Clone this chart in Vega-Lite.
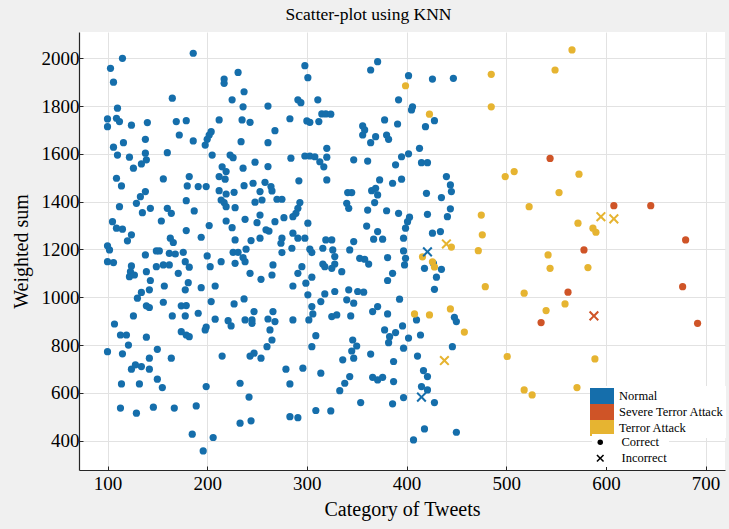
{
 "$schema": "https://vega.github.io/schema/vega-lite/v6.json",
 "width": 646, "height": 438,
 "autosize": {"type": "none"},
 "padding": {"left": 79, "top": 32, "right": 4, "bottom": 59},
 "background": "#f0f0f0",
 "title": {"text": "Scatter-plot using KNN", "anchor": "middle", "frame": "bounds", "offset": 9, "font": "Liberation Serif", "fontSize": 17.5, "fontWeight": "normal", "color": "black"},
 "config": {
  "view": {"fill": "white", "stroke": null},
  "axis": {"labelFont": "Liberation Serif", "labelFontSize": 19, "labelColor": "black", "titleFont": "Liberation Serif", "titleFontSize": 20, "titleFontWeight": "normal", "titleColor": "black", "domainColor": "#262626", "domainWidth": 1.2, "tickColor": "#262626", "gridColor": "#e2e2e2", "tickSize": -4}
 },
 "data": {"values": [
{"tweets":115,"wsum":2000,"cls":"Normal","res":"Correct"},{"tweets":103,"wsum":1958,"cls":"Normal","res":"Correct"},{"tweets":106,"wsum":1900,"cls":"Normal","res":"Correct"},{"tweets":186,"wsum":2021,"cls":"Normal","res":"Correct"},{"tweets":110,"wsum":1791,"cls":"Normal","res":"Correct"},{"tweets":165,"wsum":1833,"cls":"Normal","res":"Correct"},{"tweets":100,"wsum":1746,"cls":"Normal","res":"Correct"},{"tweets":100,"wsum":1714,"cls":"Normal","res":"Correct"},{"tweets":109,"wsum":1749,"cls":"Normal","res":"Correct"},{"tweets":112,"wsum":1735,"cls":"Normal","res":"Correct"},
{"tweets":124,"wsum":1720,"cls":"Normal","res":"Correct"},{"tweets":140,"wsum":1731,"cls":"Normal","res":"Correct"},{"tweets":169,"wsum":1735,"cls":"Normal","res":"Correct"},{"tweets":179,"wsum":1739,"cls":"Normal","res":"Correct"},{"tweets":172,"wsum":1679,"cls":"Normal","res":"Correct"},{"tweets":186,"wsum":1654,"cls":"Normal","res":"Correct"},{"tweets":138,"wsum":1661,"cls":"Normal","res":"Correct"},{"tweets":116,"wsum":1647,"cls":"Normal","res":"Correct"},{"tweets":106,"wsum":1628,"cls":"Normal","res":"Correct"},{"tweets":110,"wsum":1595,"cls":"Normal","res":"Correct"},
{"tweets":122,"wsum":1586,"cls":"Normal","res":"Correct"},{"tweets":126,"wsum":1540,"cls":"Normal","res":"Correct"},{"tweets":134,"wsum":1558,"cls":"Normal","res":"Correct"},{"tweets":138,"wsum":1603,"cls":"Normal","res":"Correct"},{"tweets":139,"wsum":1575,"cls":"Normal","res":"Correct"},{"tweets":160,"wsum":1605,"cls":"Normal","res":"Correct"},{"tweets":109,"wsum":1498,"cls":"Normal","res":"Correct"},{"tweets":114,"wsum":1466,"cls":"Normal","res":"Correct"},{"tweets":156,"wsum":1495,"cls":"Normal","res":"Correct"},{"tweets":182,"wsum":1505,"cls":"Normal","res":"Correct"},
{"tweets":180,"wsum":1466,"cls":"Normal","res":"Correct"},{"tweets":191,"wsum":1463,"cls":"Normal","res":"Correct"},{"tweets":199,"wsum":1463,"cls":"Normal","res":"Correct"},{"tweets":138,"wsum":1442,"cls":"Normal","res":"Correct"},{"tweets":133,"wsum":1421,"cls":"Normal","res":"Correct"},{"tweets":129,"wsum":1393,"cls":"Normal","res":"Correct"},{"tweets":112,"wsum":1379,"cls":"Normal","res":"Correct"},{"tweets":143,"wsum":1372,"cls":"Normal","res":"Correct"},{"tweets":135,"wsum":1354,"cls":"Normal","res":"Correct"},{"tweets":179,"wsum":1404,"cls":"Normal","res":"Correct"},
{"tweets":187,"wsum":1361,"cls":"Normal","res":"Correct"},{"tweets":160,"wsum":1372,"cls":"Normal","res":"Correct"},{"tweets":164,"wsum":1351,"cls":"Normal","res":"Correct"},{"tweets":154,"wsum":1319,"cls":"Normal","res":"Correct"},{"tweets":105,"wsum":1316,"cls":"Normal","res":"Correct"},{"tweets":109,"wsum":1289,"cls":"Normal","res":"Correct"},{"tweets":115,"wsum":1285,"cls":"Normal","res":"Correct"},{"tweets":124,"wsum":1261,"cls":"Normal","res":"Correct"},{"tweets":120,"wsum":1236,"cls":"Normal","res":"Correct"},{"tweets":179,"wsum":1279,"cls":"Normal","res":"Correct"},
{"tweets":194,"wsum":1251,"cls":"Normal","res":"Correct"},{"tweets":163,"wsum":1247,"cls":"Normal","res":"Correct"},{"tweets":166,"wsum":1229,"cls":"Normal","res":"Correct"},{"tweets":202,"wsum":1300,"cls":"Normal","res":"Correct"},{"tweets":100,"wsum":1215,"cls":"Normal","res":"Correct"},{"tweets":102,"wsum":1198,"cls":"Normal","res":"Correct"},{"tweets":138,"wsum":1177,"cls":"Normal","res":"Correct"},{"tweets":149,"wsum":1194,"cls":"Normal","res":"Correct"},{"tweets":152,"wsum":1194,"cls":"Normal","res":"Correct"},{"tweets":162,"wsum":1184,"cls":"Normal","res":"Correct"},
{"tweets":168,"wsum":1181,"cls":"Normal","res":"Correct"},{"tweets":176,"wsum":1188,"cls":"Normal","res":"Correct"},{"tweets":200,"wsum":1173,"cls":"Normal","res":"Correct"},{"tweets":214,"wsum":1149,"cls":"Normal","res":"Correct"},{"tweets":100,"wsum":1149,"cls":"Normal","res":"Correct"},{"tweets":106,"wsum":1145,"cls":"Normal","res":"Correct"},{"tweets":124,"wsum":1131,"cls":"Normal","res":"Correct"},{"tweets":149,"wsum":1128,"cls":"Normal","res":"Correct"},{"tweets":156,"wsum":1135,"cls":"Normal","res":"Correct"},{"tweets":178,"wsum":1149,"cls":"Normal","res":"Correct"},
{"tweets":203,"wsum":1128,"cls":"Normal","res":"Correct"},{"tweets":228,"wsum":1142,"cls":"Normal","res":"Correct"},{"tweets":238,"wsum":1149,"cls":"Normal","res":"Correct"},{"tweets":231,"wsum":1941,"cls":"Normal","res":"Correct"},{"tweets":217,"wsum":1913,"cls":"Normal","res":"Correct"},{"tweets":217,"wsum":1895,"cls":"Normal","res":"Correct"},{"tweets":237,"wsum":1860,"cls":"Normal","res":"Correct"},{"tweets":225,"wsum":1826,"cls":"Normal","res":"Correct"},{"tweets":236,"wsum":1797,"cls":"Normal","res":"Correct"},{"tweets":261,"wsum":1800,"cls":"Normal","res":"Correct"},
{"tweets":212,"wsum":1742,"cls":"Normal","res":"Correct"},{"tweets":235,"wsum":1742,"cls":"Normal","res":"Correct"},{"tweets":243,"wsum":1732,"cls":"Normal","res":"Correct"},{"tweets":204,"wsum":1693,"cls":"Normal","res":"Correct"},{"tweets":202,"wsum":1679,"cls":"Normal","res":"Correct"},{"tweets":200,"wsum":1661,"cls":"Normal","res":"Correct"},{"tweets":198,"wsum":1637,"cls":"Normal","res":"Correct"},{"tweets":234,"wsum":1651,"cls":"Normal","res":"Correct"},{"tweets":261,"wsum":1647,"cls":"Normal","res":"Correct"},{"tweets":205,"wsum":1595,"cls":"Normal","res":"Correct"},
{"tweets":223,"wsum":1595,"cls":"Normal","res":"Correct"},{"tweets":226,"wsum":1584,"cls":"Normal","res":"Correct"},{"tweets":215,"wsum":1546,"cls":"Normal","res":"Correct"},{"tweets":219,"wsum":1526,"cls":"Normal","res":"Correct"},{"tweets":236,"wsum":1540,"cls":"Normal","res":"Correct"},{"tweets":248,"wsum":1565,"cls":"Normal","res":"Correct"},{"tweets":261,"wsum":1547,"cls":"Normal","res":"Correct"},{"tweets":212,"wsum":1505,"cls":"Normal","res":"Correct"},{"tweets":218,"wsum":1494,"cls":"Normal","res":"Correct"},{"tweets":237,"wsum":1467,"cls":"Normal","res":"Correct"},
{"tweets":246,"wsum":1477,"cls":"Normal","res":"Correct"},{"tweets":258,"wsum":1481,"cls":"Normal","res":"Correct"},{"tweets":212,"wsum":1446,"cls":"Normal","res":"Correct"},{"tweets":219,"wsum":1432,"cls":"Normal","res":"Correct"},{"tweets":227,"wsum":1439,"cls":"Normal","res":"Correct"},{"tweets":253,"wsum":1442,"cls":"Normal","res":"Correct"},{"tweets":214,"wsum":1407,"cls":"Normal","res":"Correct"},{"tweets":217,"wsum":1396,"cls":"Normal","res":"Correct"},{"tweets":219,"wsum":1379,"cls":"Normal","res":"Correct"},{"tweets":228,"wsum":1375,"cls":"Normal","res":"Correct"},
{"tweets":248,"wsum":1398,"cls":"Normal","res":"Correct"},{"tweets":255,"wsum":1407,"cls":"Normal","res":"Correct"},{"tweets":219,"wsum":1319,"cls":"Normal","res":"Correct"},{"tweets":225,"wsum":1291,"cls":"Normal","res":"Correct"},{"tweets":238,"wsum":1326,"cls":"Normal","res":"Correct"},{"tweets":250,"wsum":1312,"cls":"Normal","res":"Correct"},{"tweets":253,"wsum":1344,"cls":"Normal","res":"Correct"},{"tweets":259,"wsum":1282,"cls":"Normal","res":"Correct"},{"tweets":228,"wsum":1240,"cls":"Normal","res":"Correct"},{"tweets":244,"wsum":1237,"cls":"Normal","res":"Correct"},
{"tweets":253,"wsum":1247,"cls":"Normal","res":"Correct"},{"tweets":226,"wsum":1188,"cls":"Normal","res":"Correct"},{"tweets":231,"wsum":1188,"cls":"Normal","res":"Correct"},{"tweets":239,"wsum":1201,"cls":"Normal","res":"Correct"},{"tweets":236,"wsum":1166,"cls":"Normal","res":"Correct"},{"tweets":298,"wsum":1969,"cls":"Normal","res":"Correct"},{"tweets":301,"wsum":1919,"cls":"Normal","res":"Correct"},{"tweets":371,"wsum":1986,"cls":"Normal","res":"Correct"},{"tweets":364,"wsum":1951,"cls":"Normal","res":"Correct"},{"tweets":402,"wsum":1927,"cls":"Normal","res":"Correct"},
{"tweets":426,"wsum":1913,"cls":"Normal","res":"Correct"},{"tweets":447,"wsum":1916,"cls":"Normal","res":"Correct"},{"tweets":291,"wsum":1826,"cls":"Normal","res":"Correct"},{"tweets":294,"wsum":1814,"cls":"Normal","res":"Correct"},{"tweets":311,"wsum":1826,"cls":"Normal","res":"Correct"},{"tweets":392,"wsum":1826,"cls":"Normal","res":"Correct"},{"tweets":406,"wsum":1797,"cls":"Normal","res":"Correct"},{"tweets":405,"wsum":1784,"cls":"Normal","res":"Correct"},{"tweets":283,"wsum":1747,"cls":"Normal","res":"Correct"},{"tweets":300,"wsum":1738,"cls":"Normal","res":"Correct"},
{"tweets":303,"wsum":1732,"cls":"Normal","res":"Correct"},{"tweets":312,"wsum":1735,"cls":"Normal","res":"Correct"},{"tweets":315,"wsum":1767,"cls":"Normal","res":"Correct"},{"tweets":319,"wsum":1767,"cls":"Normal","res":"Correct"},{"tweets":324,"wsum":1766,"cls":"Normal","res":"Correct"},{"tweets":378,"wsum":1742,"cls":"Normal","res":"Correct"},{"tweets":391,"wsum":1725,"cls":"Normal","res":"Correct"},{"tweets":419,"wsum":1714,"cls":"Normal","res":"Correct"},{"tweets":428,"wsum":1739,"cls":"Normal","res":"Correct"},{"tweets":268,"wsum":1697,"cls":"Normal","res":"Correct"},
{"tweets":356,"wsum":1717,"cls":"Normal","res":"Correct"},{"tweets":358,"wsum":1700,"cls":"Normal","res":"Correct"},{"tweets":356,"wsum":1679,"cls":"Normal","res":"Correct"},{"tweets":369,"wsum":1672,"cls":"Normal","res":"Correct"},{"tweets":364,"wsum":1647,"cls":"Normal","res":"Correct"},{"tweets":380,"wsum":1679,"cls":"Normal","res":"Correct"},{"tweets":382,"wsum":1661,"cls":"Normal","res":"Correct"},{"tweets":320,"wsum":1623,"cls":"Normal","res":"Correct"},{"tweets":298,"wsum":1591,"cls":"Normal","res":"Correct"},{"tweets":303,"wsum":1591,"cls":"Normal","res":"Correct"},
{"tweets":308,"wsum":1588,"cls":"Normal","res":"Correct"},{"tweets":320,"wsum":1586,"cls":"Normal","res":"Correct"},{"tweets":313,"wsum":1567,"cls":"Normal","res":"Correct"},{"tweets":317,"wsum":1546,"cls":"Normal","res":"Correct"},{"tweets":320,"wsum":1491,"cls":"Normal","res":"Correct"},{"tweets":284,"wsum":1582,"cls":"Normal","res":"Correct"},{"tweets":347,"wsum":1575,"cls":"Normal","res":"Correct"},{"tweets":361,"wsum":1570,"cls":"Normal","res":"Correct"},{"tweets":395,"wsum":1588,"cls":"Normal","res":"Correct"},{"tweets":402,"wsum":1600,"cls":"Normal","res":"Correct"},
{"tweets":413,"wsum":1623,"cls":"Normal","res":"Correct"},{"tweets":389,"wsum":1554,"cls":"Normal","res":"Correct"},{"tweets":415,"wsum":1563,"cls":"Normal","res":"Correct"},{"tweets":421,"wsum":1563,"cls":"Normal","res":"Correct"},{"tweets":292,"wsum":1487,"cls":"Normal","res":"Correct"},{"tweets":264,"wsum":1463,"cls":"Normal","res":"Correct"},{"tweets":265,"wsum":1445,"cls":"Normal","res":"Correct"},{"tweets":270,"wsum":1410,"cls":"Normal","res":"Correct"},{"tweets":275,"wsum":1410,"cls":"Normal","res":"Correct"},{"tweets":293,"wsum":1396,"cls":"Normal","res":"Correct"},
{"tweets":291,"wsum":1372,"cls":"Normal","res":"Correct"},{"tweets":289,"wsum":1351,"cls":"Normal","res":"Correct"},{"tweets":286,"wsum":1337,"cls":"Normal","res":"Correct"},{"tweets":341,"wsum":1438,"cls":"Normal","res":"Correct"},{"tweets":345,"wsum":1438,"cls":"Normal","res":"Correct"},{"tweets":340,"wsum":1393,"cls":"Normal","res":"Correct"},{"tweets":342,"wsum":1372,"cls":"Normal","res":"Correct"},{"tweets":365,"wsum":1446,"cls":"Normal","res":"Correct"},{"tweets":369,"wsum":1456,"cls":"Normal","res":"Correct"},{"tweets":373,"wsum":1491,"cls":"Normal","res":"Correct"},
{"tweets":371,"wsum":1428,"cls":"Normal","res":"Correct"},{"tweets":368,"wsum":1396,"cls":"Normal","res":"Correct"},{"tweets":386,"wsum":1477,"cls":"Normal","res":"Correct"},{"tweets":395,"wsum":1494,"cls":"Normal","res":"Correct"},{"tweets":420,"wsum":1435,"cls":"Normal","res":"Correct"},{"tweets":435,"wsum":1417,"cls":"Normal","res":"Correct"},{"tweets":440,"wsum":1505,"cls":"Normal","res":"Correct"},{"tweets":444,"wsum":1470,"cls":"Normal","res":"Correct"},{"tweets":445,"wsum":1442,"cls":"Normal","res":"Correct"},{"tweets":361,"wsum":1365,"cls":"Normal","res":"Correct"},
{"tweets":380,"wsum":1362,"cls":"Normal","res":"Correct"},{"tweets":392,"wsum":1351,"cls":"Normal","res":"Correct"},{"tweets":403,"wsum":1335,"cls":"Normal","res":"Correct"},{"tweets":401,"wsum":1316,"cls":"Normal","res":"Correct"},{"tweets":399,"wsum":1289,"cls":"Normal","res":"Correct"},{"tweets":397,"wsum":1247,"cls":"Normal","res":"Correct"},{"tweets":421,"wsum":1347,"cls":"Normal","res":"Correct"},{"tweets":444,"wsum":1370,"cls":"Normal","res":"Correct"},{"tweets":441,"wsum":1337,"cls":"Normal","res":"Correct"},{"tweets":426,"wsum":1268,"cls":"Normal","res":"Correct"},
{"tweets":434,"wsum":1275,"cls":"Normal","res":"Correct"},{"tweets":268,"wsum":1316,"cls":"Normal","res":"Correct"},{"tweets":277,"wsum":1333,"cls":"Normal","res":"Correct"},{"tweets":262,"wsum":1277,"cls":"Normal","res":"Correct"},{"tweets":275,"wsum":1247,"cls":"Normal","res":"Correct"},{"tweets":274,"wsum":1226,"cls":"Normal","res":"Correct"},{"tweets":286,"wsum":1268,"cls":"Normal","res":"Correct"},{"tweets":291,"wsum":1247,"cls":"Normal","res":"Correct"},{"tweets":298,"wsum":1247,"cls":"Normal","res":"Correct"},{"tweets":301,"wsum":1310,"cls":"Normal","res":"Correct"},
{"tweets":303,"wsum":1201,"cls":"Normal","res":"Correct"},{"tweets":305,"wsum":1187,"cls":"Normal","res":"Correct"},{"tweets":285,"wsum":1205,"cls":"Normal","res":"Correct"},{"tweets":275,"wsum":1187,"cls":"Normal","res":"Correct"},{"tweets":319,"wsum":1240,"cls":"Normal","res":"Correct"},{"tweets":325,"wsum":1240,"cls":"Normal","res":"Correct"},{"tweets":316,"wsum":1205,"cls":"Normal","res":"Correct"},{"tweets":326,"wsum":1198,"cls":"Normal","res":"Correct"},{"tweets":328,"wsum":1170,"cls":"Normal","res":"Correct"},{"tweets":343,"wsum":1198,"cls":"Normal","res":"Correct"},
{"tweets":347,"wsum":1233,"cls":"Normal","res":"Correct"},{"tweets":360,"wsum":1298,"cls":"Normal","res":"Correct"},{"tweets":371,"wsum":1275,"cls":"Normal","res":"Correct"},{"tweets":367,"wsum":1243,"cls":"Normal","res":"Correct"},{"tweets":376,"wsum":1243,"cls":"Normal","res":"Correct"},{"tweets":353,"wsum":1163,"cls":"Normal","res":"Correct"},{"tweets":358,"wsum":1159,"cls":"Normal","res":"Correct"},{"tweets":381,"wsum":1166,"cls":"Normal","res":"Correct"},{"tweets":397,"wsum":1194,"cls":"Normal","res":"Correct"},{"tweets":398,"wsum":1135,"cls":"Normal","res":"Correct"},
{"tweets":266,"wsum":1135,"cls":"Normal","res":"Correct"},{"tweets":295,"wsum":1128,"cls":"Normal","res":"Correct"},{"tweets":318,"wsum":1128,"cls":"Normal","res":"Correct"},{"tweets":123,"wsum":1107,"cls":"Normal","res":"Correct"},{"tweets":122,"wsum":1086,"cls":"Normal","res":"Correct"},{"tweets":127,"wsum":1093,"cls":"Normal","res":"Correct"},{"tweets":139,"wsum":1107,"cls":"Normal","res":"Correct"},{"tweets":143,"wsum":1070,"cls":"Normal","res":"Correct"},{"tweets":162,"wsum":1135,"cls":"Normal","res":"Correct"},{"tweets":182,"wsum":1126,"cls":"Normal","res":"Correct"},
{"tweets":171,"wsum":1100,"cls":"Normal","res":"Correct"},{"tweets":142,"wsum":1031,"cls":"Normal","res":"Correct"},{"tweets":134,"wsum":1020,"cls":"Normal","res":"Correct"},{"tweets":130,"wsum":996,"cls":"Normal","res":"Correct"},{"tweets":157,"wsum":1047,"cls":"Normal","res":"Correct"},{"tweets":181,"wsum":1061,"cls":"Normal","res":"Correct"},{"tweets":178,"wsum":1031,"cls":"Normal","res":"Correct"},{"tweets":194,"wsum":1040,"cls":"Normal","res":"Correct"},{"tweets":208,"wsum":1047,"cls":"Normal","res":"Correct"},{"tweets":156,"wsum":979,"cls":"Normal","res":"Correct"},
{"tweets":139,"wsum":964,"cls":"Normal","res":"Correct"},{"tweets":142,"wsum":957,"cls":"Normal","res":"Correct"},{"tweets":126,"wsum":922,"cls":"Normal","res":"Correct"},{"tweets":107,"wsum":888,"cls":"Normal","res":"Correct"},{"tweets":174,"wsum":964,"cls":"Normal","res":"Correct"},{"tweets":179,"wsum":965,"cls":"Normal","res":"Correct"},{"tweets":178,"wsum":922,"cls":"Normal","res":"Correct"},{"tweets":165,"wsum":922,"cls":"Normal","res":"Correct"},{"tweets":191,"wsum":933,"cls":"Normal","res":"Correct"},{"tweets":204,"wsum":982,"cls":"Normal","res":"Correct"},
{"tweets":227,"wsum":972,"cls":"Normal","res":"Correct"},{"tweets":237,"wsum":993,"cls":"Normal","res":"Correct"},{"tweets":208,"wsum":908,"cls":"Normal","res":"Correct"},{"tweets":221,"wsum":902,"cls":"Normal","res":"Correct"},{"tweets":224,"wsum":880,"cls":"Normal","res":"Correct"},{"tweets":238,"wsum":905,"cls":"Normal","res":"Correct"},{"tweets":245,"wsum":905,"cls":"Normal","res":"Correct"},{"tweets":247,"wsum":940,"cls":"Normal","res":"Correct"},{"tweets":245,"wsum":891,"cls":"Normal","res":"Correct"},{"tweets":261,"wsum":909,"cls":"Normal","res":"Correct"},
{"tweets":174,"wsum":856,"cls":"Normal","res":"Correct"},{"tweets":179,"wsum":842,"cls":"Normal","res":"Correct"},{"tweets":182,"wsum":835,"cls":"Normal","res":"Correct"},{"tweets":199,"wsum":875,"cls":"Normal","res":"Correct"},{"tweets":198,"wsum":863,"cls":"Normal","res":"Correct"},{"tweets":113,"wsum":842,"cls":"Normal","res":"Correct"},{"tweets":119,"wsum":842,"cls":"Normal","res":"Correct"},{"tweets":121,"wsum":800,"cls":"Normal","res":"Correct"},{"tweets":139,"wsum":833,"cls":"Normal","res":"Correct"},{"tweets":100,"wsum":772,"cls":"Normal","res":"Correct"},
{"tweets":115,"wsum":763,"cls":"Normal","res":"Correct"},{"tweets":150,"wsum":782,"cls":"Normal","res":"Correct"},{"tweets":164,"wsum":745,"cls":"Normal","res":"Correct"},{"tweets":142,"wsum":745,"cls":"Normal","res":"Correct"},{"tweets":124,"wsum":699,"cls":"Normal","res":"Correct"},{"tweets":128,"wsum":717,"cls":"Normal","res":"Correct"},{"tweets":134,"wsum":710,"cls":"Normal","res":"Correct"},{"tweets":142,"wsum":699,"cls":"Normal","res":"Correct"},{"tweets":215,"wsum":754,"cls":"Normal","res":"Correct"},{"tweets":243,"wsum":754,"cls":"Normal","res":"Correct"},
{"tweets":247,"wsum":766,"cls":"Normal","res":"Correct"},{"tweets":254,"wsum":745,"cls":"Normal","res":"Correct"},{"tweets":260,"wsum":793,"cls":"Normal","res":"Correct"},{"tweets":114,"wsum":637,"cls":"Normal","res":"Correct"},{"tweets":132,"wsum":637,"cls":"Normal","res":"Correct"},{"tweets":150,"wsum":657,"cls":"Normal","res":"Correct"},{"tweets":155,"wsum":622,"cls":"Normal","res":"Correct"},{"tweets":199,"wsum":626,"cls":"Normal","res":"Correct"},{"tweets":233,"wsum":640,"cls":"Normal","res":"Correct"},{"tweets":242,"wsum":582,"cls":"Normal","res":"Correct"},
{"tweets":113,"wsum":536,"cls":"Normal","res":"Correct"},{"tweets":129,"wsum":515,"cls":"Normal","res":"Correct"},{"tweets":146,"wsum":540,"cls":"Normal","res":"Correct"},{"tweets":167,"wsum":536,"cls":"Normal","res":"Correct"},{"tweets":189,"wsum":545,"cls":"Normal","res":"Correct"},{"tweets":233,"wsum":473,"cls":"Normal","res":"Correct"},{"tweets":244,"wsum":483,"cls":"Normal","res":"Correct"},{"tweets":185,"wsum":427,"cls":"Normal","res":"Correct"},{"tweets":206,"wsum":413,"cls":"Normal","res":"Correct"},{"tweets":196,"wsum":357,"cls":"Normal","res":"Correct"},
{"tweets":362,"wsum":1139,"cls":"Normal","res":"Correct"},{"tweets":399,"wsum":1163,"cls":"Normal","res":"Correct"},{"tweets":265,"wsum":1093,"cls":"Normal","res":"Correct"},{"tweets":254,"wsum":1075,"cls":"Normal","res":"Correct"},{"tweets":243,"wsum":1100,"cls":"Normal","res":"Correct"},{"tweets":316,"wsum":1139,"cls":"Normal","res":"Correct"},{"tweets":328,"wsum":1139,"cls":"Normal","res":"Correct"},{"tweets":325,"wsum":1121,"cls":"Normal","res":"Correct"},{"tweets":335,"wsum":1107,"cls":"Normal","res":"Correct"},{"tweets":291,"wsum":1100,"cls":"Normal","res":"Correct"},
{"tweets":305,"wsum":1084,"cls":"Normal","res":"Correct"},{"tweets":299,"wsum":1059,"cls":"Normal","res":"Correct"},{"tweets":286,"wsum":1047,"cls":"Normal","res":"Correct"},{"tweets":386,"wsum":1100,"cls":"Normal","res":"Correct"},{"tweets":381,"wsum":1070,"cls":"Normal","res":"Correct"},{"tweets":418,"wsum":1121,"cls":"Normal","res":"Correct"},{"tweets":427,"wsum":1142,"cls":"Normal","res":"Correct"},{"tweets":435,"wsum":1117,"cls":"Normal","res":"Correct"},{"tweets":430,"wsum":1084,"cls":"Normal","res":"Correct"},{"tweets":428,"wsum":1033,"cls":"Normal","res":"Correct"},
{"tweets":301,"wsum":1010,"cls":"Normal","res":"Correct"},{"tweets":314,"wsum":982,"cls":"Normal","res":"Correct"},{"tweets":318,"wsum":1014,"cls":"Normal","res":"Correct"},{"tweets":328,"wsum":1024,"cls":"Normal","res":"Correct"},{"tweets":342,"wsum":1031,"cls":"Normal","res":"Correct"},{"tweets":340,"wsum":989,"cls":"Normal","res":"Correct"},{"tweets":347,"wsum":975,"cls":"Normal","res":"Correct"},{"tweets":351,"wsum":1024,"cls":"Normal","res":"Correct"},{"tweets":357,"wsum":1021,"cls":"Normal","res":"Correct"},{"tweets":393,"wsum":992,"cls":"Normal","res":"Correct"},
{"tweets":371,"wsum":961,"cls":"Normal","res":"Correct"},{"tweets":366,"wsum":940,"cls":"Normal","res":"Correct"},{"tweets":381,"wsum":930,"cls":"Normal","res":"Correct"},{"tweets":448,"wsum":916,"cls":"Normal","res":"Correct"},{"tweets":450,"wsum":898,"cls":"Normal","res":"Correct"},{"tweets":410,"wsum":905,"cls":"Normal","res":"Correct"},{"tweets":266,"wsum":940,"cls":"Normal","res":"Correct"},{"tweets":268,"wsum":898,"cls":"Normal","res":"Correct"},{"tweets":286,"wsum":905,"cls":"Normal","res":"Correct"},{"tweets":302,"wsum":905,"cls":"Normal","res":"Correct"},
{"tweets":306,"wsum":930,"cls":"Normal","res":"Correct"},{"tweets":305,"wsum":961,"cls":"Normal","res":"Correct"},{"tweets":325,"wsum":919,"cls":"Normal","res":"Correct"},{"tweets":330,"wsum":926,"cls":"Normal","res":"Correct"},{"tweets":344,"wsum":922,"cls":"Normal","res":"Correct"},{"tweets":263,"wsum":863,"cls":"Normal","res":"Correct"},{"tweets":265,"wsum":821,"cls":"Normal","res":"Correct"},{"tweets":309,"wsum":839,"cls":"Normal","res":"Correct"},{"tweets":305,"wsum":793,"cls":"Normal","res":"Correct"},{"tweets":346,"wsum":821,"cls":"Normal","res":"Correct"},
{"tweets":350,"wsum":796,"cls":"Normal","res":"Correct"},{"tweets":345,"wsum":775,"cls":"Normal","res":"Correct"},{"tweets":347,"wsum":745,"cls":"Normal","res":"Correct"},{"tweets":336,"wsum":738,"cls":"Normal","res":"Correct"},{"tweets":364,"wsum":762,"cls":"Normal","res":"Correct"},{"tweets":378,"wsum":863,"cls":"Normal","res":"Correct"},{"tweets":383,"wsum":835,"cls":"Normal","res":"Correct"},{"tweets":382,"wsum":810,"cls":"Normal","res":"Correct"},{"tweets":389,"wsum":852,"cls":"Normal","res":"Correct"},{"tweets":396,"wsum":880,"cls":"Normal","res":"Correct"},
{"tweets":402,"wsum":829,"cls":"Normal","res":"Correct"},{"tweets":397,"wsum":787,"cls":"Normal","res":"Correct"},{"tweets":414,"wsum":842,"cls":"Normal","res":"Correct"},{"tweets":411,"wsum":754,"cls":"Normal","res":"Correct"},{"tweets":387,"wsum":731,"cls":"Normal","res":"Correct"},{"tweets":446,"wsum":793,"cls":"Normal","res":"Correct"},{"tweets":279,"wsum":699,"cls":"Normal","res":"Correct"},{"tweets":296,"wsum":703,"cls":"Normal","res":"Correct"},{"tweets":283,"wsum":637,"cls":"Normal","res":"Correct"},{"tweets":314,"wsum":682,"cls":"Normal","res":"Correct"},
{"tweets":343,"wsum":668,"cls":"Normal","res":"Correct"},{"tweets":338,"wsum":640,"cls":"Normal","res":"Correct"},{"tweets":333,"wsum":609,"cls":"Normal","res":"Correct"},{"tweets":366,"wsum":665,"cls":"Normal","res":"Correct"},{"tweets":371,"wsum":654,"cls":"Normal","res":"Correct"},{"tweets":376,"wsum":665,"cls":"Normal","res":"Correct"},{"tweets":387,"wsum":647,"cls":"Normal","res":"Correct"},{"tweets":417,"wsum":693,"cls":"Normal","res":"Correct"},{"tweets":421,"wsum":668,"cls":"Normal","res":"Correct"},{"tweets":415,"wsum":626,"cls":"Normal","res":"Correct"},
{"tweets":421,"wsum":612,"cls":"Normal","res":"Correct"},{"tweets":428,"wsum":559,"cls":"Normal","res":"Correct"},{"tweets":397,"wsum":580,"cls":"Normal","res":"Correct"},{"tweets":386,"wsum":554,"cls":"Normal","res":"Correct"},{"tweets":354,"wsum":559,"cls":"Normal","res":"Correct"},{"tweets":309,"wsum":526,"cls":"Normal","res":"Correct"},{"tweets":324,"wsum":524,"cls":"Normal","res":"Correct"},{"tweets":283,"wsum":500,"cls":"Normal","res":"Correct"},{"tweets":291,"wsum":496,"cls":"Normal","res":"Correct"},{"tweets":418,"wsum":449,"cls":"Normal","res":"Correct"},
{"tweets":407,"wsum":403,"cls":"Normal","res":"Correct"},{"tweets":450,"wsum":435,"cls":"Normal","res":"Correct"},
{"tweets":399,"wsum":1885,"cls":"Terror Attack","res":"Correct"},{"tweets":423,"wsum":1766,"cls":"Terror Attack","res":"Correct"},{"tweets":485,"wsum":1933,"cls":"Terror Attack","res":"Correct"},{"tweets":485,"wsum":1797,"cls":"Terror Attack","res":"Correct"},{"tweets":566,"wsum":2035,"cls":"Terror Attack","res":"Correct"},{"tweets":549,"wsum":1951,"cls":"Terror Attack","res":"Correct"},{"tweets":499,"wsum":1505,"cls":"Terror Attack","res":"Correct"},{"tweets":508,"wsum":1526,"cls":"Terror Attack","res":"Correct"},{"tweets":573,"wsum":1515,"cls":"Terror Attack","res":"Correct"},{"tweets":553,"wsum":1438,"cls":"Terror Attack","res":"Correct"},
{"tweets":523,"wsum":1379,"cls":"Terror Attack","res":"Correct"},{"tweets":475,"wsum":1344,"cls":"Terror Attack","res":"Correct"},{"tweets":572,"wsum":1310,"cls":"Terror Attack","res":"Correct"},{"tweets":587,"wsum":1289,"cls":"Terror Attack","res":"Correct"},{"tweets":590,"wsum":1272,"cls":"Terror Attack","res":"Correct"},{"tweets":476,"wsum":1261,"cls":"Terror Attack","res":"Correct"},{"tweets":472,"wsum":1195,"cls":"Terror Attack","res":"Correct"},{"tweets":542,"wsum":1177,"cls":"Terror Attack","res":"Correct"},{"tweets":544,"wsum":1121,"cls":"Terror Attack","res":"Correct"},{"tweets":582,"wsum":1124,"cls":"Terror Attack","res":"Correct"},
{"tweets":479,"wsum":1044,"cls":"Terror Attack","res":"Correct"},{"tweets":518,"wsum":1017,"cls":"Terror Attack","res":"Correct"},{"tweets":559,"wsum":972,"cls":"Terror Attack","res":"Correct"},{"tweets":540,"wsum":944,"cls":"Terror Attack","res":"Correct"},{"tweets":444,"wsum":951,"cls":"Terror Attack","res":"Correct"},{"tweets":458,"wsum":854,"cls":"Terror Attack","res":"Correct"},{"tweets":501,"wsum":752,"cls":"Terror Attack","res":"Correct"},{"tweets":589,"wsum":742,"cls":"Terror Attack","res":"Correct"},{"tweets":518,"wsum":612,"cls":"Terror Attack","res":"Correct"},{"tweets":526,"wsum":591,"cls":"Terror Attack","res":"Correct"},
{"tweets":571,"wsum":622,"cls":"Terror Attack","res":"Correct"},{"tweets":416,"wsum":1169,"cls":"Terror Attack","res":"Correct"},{"tweets":426,"wsum":1148,"cls":"Terror Attack","res":"Correct"},{"tweets":428,"wsum":1127,"cls":"Terror Attack","res":"Correct"},{"tweets":445,"wsum":1210,"cls":"Terror Attack","res":"Correct"},{"tweets":408,"wsum":930,"cls":"Terror Attack","res":"Correct"},{"tweets":423,"wsum":926,"cls":"Terror Attack","res":"Correct"},
{"tweets":544,"wsum":1581,"cls":"Severe Terror Attack","res":"Correct"},{"tweets":608,"wsum":1383,"cls":"Severe Terror Attack","res":"Correct"},{"tweets":645,"wsum":1383,"cls":"Severe Terror Attack","res":"Correct"},{"tweets":680,"wsum":1240,"cls":"Severe Terror Attack","res":"Correct"},{"tweets":578,"wsum":1198,"cls":"Severe Terror Attack","res":"Correct"},{"tweets":562,"wsum":1021,"cls":"Severe Terror Attack","res":"Correct"},{"tweets":677,"wsum":1044,"cls":"Severe Terror Attack","res":"Correct"},{"tweets":535,"wsum":894,"cls":"Severe Terror Attack","res":"Correct"},{"tweets":692,"wsum":891,"cls":"Severe Terror Attack","res":"Correct"},
{"tweets":595,"wsum":1337,"cls":"Terror Attack","res":"Incorrect"},{"tweets":608,"wsum":1328,"cls":"Terror Attack","res":"Incorrect"},{"tweets":440,"wsum":1223,"cls":"Terror Attack","res":"Incorrect"},{"tweets":438,"wsum":735,"cls":"Terror Attack","res":"Incorrect"},{"tweets":588,"wsum":922,"cls":"Severe Terror Attack","res":"Incorrect"},{"tweets":421,"wsum":1190,"cls":"Normal","res":"Incorrect"},{"tweets":415,"wsum":582,"cls":"Normal","res":"Incorrect"}
 ]},
 "mark": {"type": "point", "filled": true, "opacity": 1, "size": 52},
 "encoding": {
  "x": {"field": "tweets", "type": "quantitative", "scale": {"domain": [71.4, 719.5], "nice": false, "zero": false}, "axis": {"values": [100, 200, 300, 400, 500, 600, 700], "title": "Category of Tweets", "labelPadding": 8, "titlePadding": 6}},
  "y": {"field": "wsum", "type": "quantitative", "scale": {"domain": [277, 2110], "nice": false, "zero": false}, "axis": {"values": [400, 600, 800, 1000, 1200, 1400, 1600, 1800, 2000], "format": "d", "title": "Weighted sum", "labelPadding": 4, "titlePadding": 10}},
  "color": {"field": "cls", "type": "nominal", "scale": {"domain": ["Normal", "Severe Terror Attack", "Terror Attack"], "range": ["#156eab", "#cf5427", "#e6b431"]},
   "legend": {"title": null, "orient": "none", "legendX": 513, "legendY": 354, "symbolType": "M-1.5,-1H1.5V1H-1.5Z", "symbolSize": 256, "symbolStrokeWidth": 0, "rowPadding": 0, "labelFont": "Liberation Serif", "labelFontSize": 12.5, "labelColor": "black", "labelOffset": 9, "fillColor": "white", "padding": 2}},
  "shape": {"field": "res", "type": "nominal", "scale": {"domain": ["Correct", "Incorrect"], "range": ["circle", "M-1.4,-1L-1,-1.4L0,-0.4L1,-1.4L1.4,-1L0.4,0L1.4,1L1,1.4L0,0.4L-1,1.4L-1.4,1L-0.4,0Z"]},
   "legend": {"title": null, "orient": "none", "legendX": 513, "legendY": 402, "symbolSize": 30, "symbolFillColor": "black", "symbolStrokeWidth": 0, "symbolOffset": 0, "rowPadding": 3, "labelFont": "Liberation Serif", "labelFontSize": 12.5, "labelColor": "black", "labelOffset": 15, "fillColor": "white", "padding": 2, "labelExpr": "datum.label + '                      '"}}
 }
}
